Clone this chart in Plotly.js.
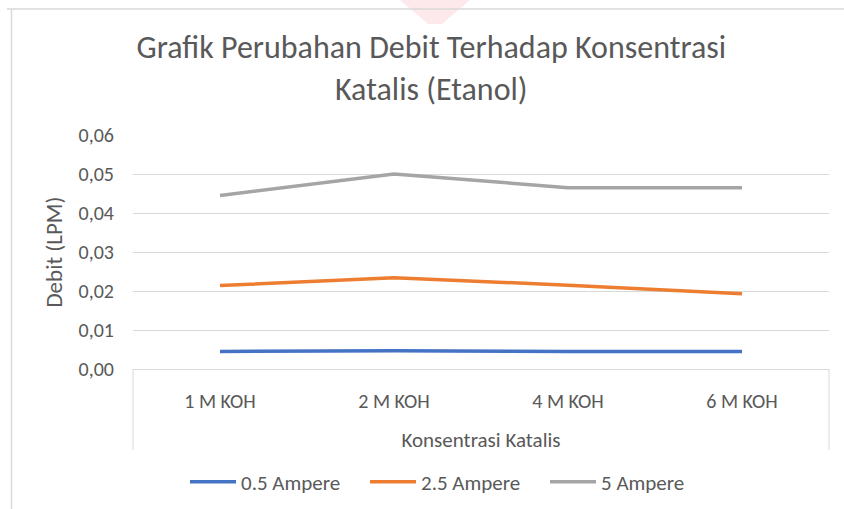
<!DOCTYPE html>
<html>
<head>
<meta charset="utf-8">
<script src="https://cdn.plot.ly/plotly-3.0.1.min.js"></script>
<style>
  html, body { margin: 0; padding: 0; background: #fff; }
  #chart { width: 844px; height: 509px; }
</style>
</head>
<body>
<div id="chart"></div>
<script>
const categories = ['1 M KOH', '2 M KOH', '4 M KOH', '6 M KOH'];
const seriesNames = ['0.5 Ampere', '2.5 Ampere', '5 Ampere'];
const ampere05 = [0.0045, 0.0047, 0.0045, 0.0045];
const ampere25 = [0.0214, 0.0234, 0.0215, 0.0193];
const ampere5 = [0.0445, 0.0500, 0.0465, 0.0465];
const colors = ['#4472c4', '#ed7d31', '#a5a5a5'];
const yTicks = [0, 0.01, 0.02, 0.03, 0.04, 0.05, 0.06];

const FONT = 'Carlito, Lato, "Liberation Sans", sans-serif';
const TXT = '#595959';

const traces = [ampere05, ampere25, ampere5].map((vals, i) => ({
  x: categories,
  y: vals,
  type: 'scatter',
  mode: 'lines',
  name: seriesNames[i],
  line: { color: colors[i], width: 3.5 },
  hoverinfo: 'x+y+name'
}));

const lineColor = '#d9d9d9';
// pixel -> paper helpers (plot area: x 133..829, y 135..369)
const px = v => (v - 133) / 696;
const py = v => (369 - v) / 234;

const layout = {
  width: 844,
  height: 509,
  margin: { l: 133, r: 15, t: 135, b: 140 },
  paper_bgcolor: '#ffffff',
  plot_bgcolor: '#ffffff',
  separators: ',.',
  font: { family: FONT, color: TXT, size: 20 },
  title: {
    text: 'Grafik Perubahan Debit Terhadap Konsentrasi<br>Katalis (Etanol)',
    font: { family: FONT, size: 32, color: TXT },
    x: 0.511, xref: 'container', xanchor: 'center',
    y: 1 - 58 / 509, yref: 'container', yanchor: 'middle'
  },
  xaxis: {
    type: 'category',
    range: [-0.5, 3.5],
    showgrid: false,
    showline: true,
    linecolor: lineColor,
    linewidth: 1,
    ticks: '',
    ticklabelstandoff: 14,
    tickfont: { family: FONT, size: 20, color: TXT },
    title: { text: 'Konsentrasi Katalis', font: { family: FONT, size: 21, color: TXT }, standoff: 20 },
    fixedrange: true,
    zeroline: false
  },
  yaxis: {
    range: [0, 0.06],
    tickvals: yTicks,
    tickformat: '.2f',
    showgrid: true,
    gridcolor: lineColor,
    gridwidth: 1,
    showline: false,
    zeroline: false,
    ticks: '',
    ticklabelstandoff: 18,
    tickfont: { family: FONT, size: 20, color: TXT },
    title: { text: 'Debit (LPM)', font: { family: FONT, size: 23, color: TXT }, standoff: 9 },
    fixedrange: true
  },
  showlegend: true,
  legend: {
    orientation: 'h',
    xref: 'container', yref: 'container',
    x: 185 / 844, xanchor: 'left',
    y: 1 - 482 / 509, yanchor: 'middle',
    font: { family: FONT, size: 21, color: TXT },
    itemwidth: 46,
    entrywidth: 119,
    tracegroupgap: 0,
    bgcolor: 'rgba(0,0,0,0)'
  },
  shapes: [
    // faint pink watermark at top
    { type: 'path', xref: 'paper', yref: 'paper', layer: 'below',
      path: `M ${px(400)} ${py(0)} L ${px(470)} ${py(0)} L ${px(442)} ${py(24)} L ${px(428)} ${py(24)} Z`,
      fillcolor: 'rgba(240,120,130,0.16)', line: { width: 0 } },
    // box around category labels
    { type: 'line', xref: 'paper', yref: 'paper', x0: 0, x1: 0, y0: 0, y1: py(450), line: { color: lineColor, width: 1 } },
    { type: 'line', xref: 'paper', yref: 'paper', x0: 1, x1: 1, y0: 0, y1: py(450), line: { color: lineColor, width: 1 } },
    // outer chart border (left & top)
    { type: 'line', xref: 'paper', yref: 'paper', x0: px(11.5), x1: px(11.5), y0: py(9), y1: py(515), line: { color: lineColor, width: 1.5 } },
    { type: 'line', xref: 'paper', yref: 'paper', x0: px(7), x1: px(850), y0: py(9), y1: py(9), line: { color: lineColor, width: 1.5 } }
  ]
};

Plotly.newPlot('chart', traces, layout, { displayModeBar: false, responsive: false });
</script>
</body>
</html>
